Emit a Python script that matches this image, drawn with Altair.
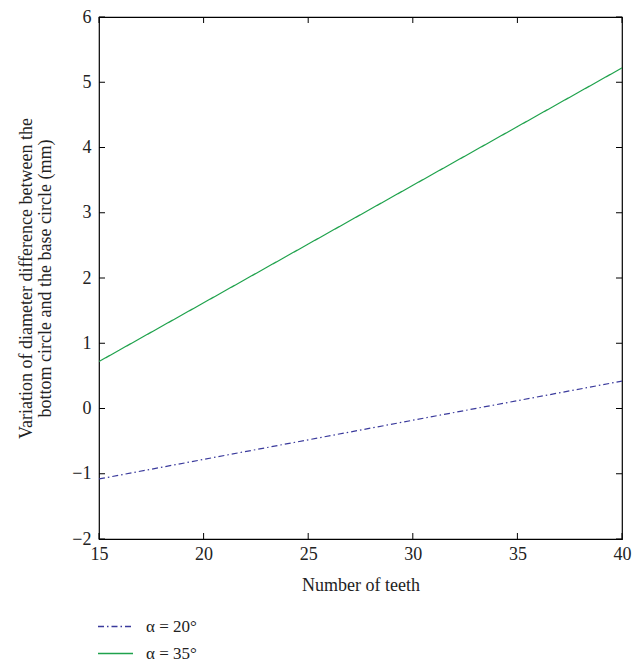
import altair as alt
import pandas as pd

teeth = [15, 20, 25, 30, 35, 40]
alpha20 = [-1.08, -0.78, -0.48, -0.18, 0.12, 0.42]
alpha35 = [0.72, 1.62, 2.52, 3.42, 4.32, 5.22]
series = ["α = 20°", "α = 35°"]
x_ticks = [15, 20, 25, 30, 35, 40]
y_ticks = [-2, -1, 0, 1, 2, 3, 4, 5, 6]

rows = []
for t, v in zip(teeth, alpha20):
    rows.append({"teeth": t, "value": v, "series": series[0]})
for t, v in zip(teeth, alpha35):
    rows.append({"teeth": t, "value": v, "series": series[1]})
df = pd.DataFrame(rows)

W, H = 523, 522
FONT = "Liberation Serif"

xs = alt.Scale(domain=[15, 40], nice=False, zero=False)
ys = alt.Scale(domain=[-2, 6], nice=False, zero=False)

lines = alt.Chart(df).mark_line(strokeWidth=1.2, clip=True).encode(
    x=alt.X("teeth:Q", scale=xs,
            axis=alt.Axis(title="Number of teeth", values=x_ticks, domain=False, ticks=False,
                          grid=False, labelPadding=6, titlePadding=13, format="d",
                          labelFlush=False)),
    y=alt.Y("value:Q", scale=ys,
            axis=alt.Axis(title=["Variation of diameter difference between the",
                                 "bottom circle and the base circle (mm)"],
                          values=y_ticks, domain=False, ticks=False, grid=False,
                          labelPadding=8, titlePadding=17, format="d", labelFlush=False)),
    color=alt.Color("series:N", scale=alt.Scale(domain=series, range=["#3a3a9c", "#1fa24c"]),
                    legend=alt.Legend(title=None, orient="none", legendX=-2, legendY=591,
                                      symbolType="stroke", symbolSize=1225, symbolStrokeWidth=1.3,
                                      labelFontSize=17, labelFont=FONT, labelOffset=12,
                                      rowPadding=-8, labelColor="#222")),
    strokeDash=alt.StrokeDash("series:N", scale=alt.Scale(domain=series, range=[[6, 3, 1.5, 3], [1, 0]]),
                              legend=alt.Legend(title=None)),
)

xt = pd.DataFrame({"t": x_ticks})
yt = pd.DataFrame({"t": y_ticks})
TL = 6
bottom = alt.Chart(xt).mark_rule(color="black").encode(x=alt.X("t:Q", scale=xs), y=alt.value(H), y2=alt.value(H - TL))
top = alt.Chart(xt).mark_rule(color="black").encode(x=alt.X("t:Q", scale=xs), y=alt.value(0), y2=alt.value(TL))
left = alt.Chart(yt).mark_rule(color="black").encode(y=alt.Y("t:Q", scale=ys), x=alt.value(0), x2=alt.value(TL))
right = alt.Chart(yt).mark_rule(color="black").encode(y=alt.Y("t:Q", scale=ys), x=alt.value(W), x2=alt.value(W - TL))

chart = alt.layer(lines, bottom, top, left, right).properties(
    width=W, height=H,
    autosize=alt.AutoSizeParams(type="none"),
    padding={"left": 91, "top": 9, "right": 12, "bottom": 132},
).configure_view(stroke="black", strokeWidth=1.2).configure_axis(
    labelFont=FONT, titleFont=FONT, labelFontSize=18, titleFontSize=18,
    labelColor="#222", titleColor="#222", titleFontWeight="normal", titleLineHeight=19,
)

chart.save("out.html", embed_options={"renderer": "svg", "actions": False})
